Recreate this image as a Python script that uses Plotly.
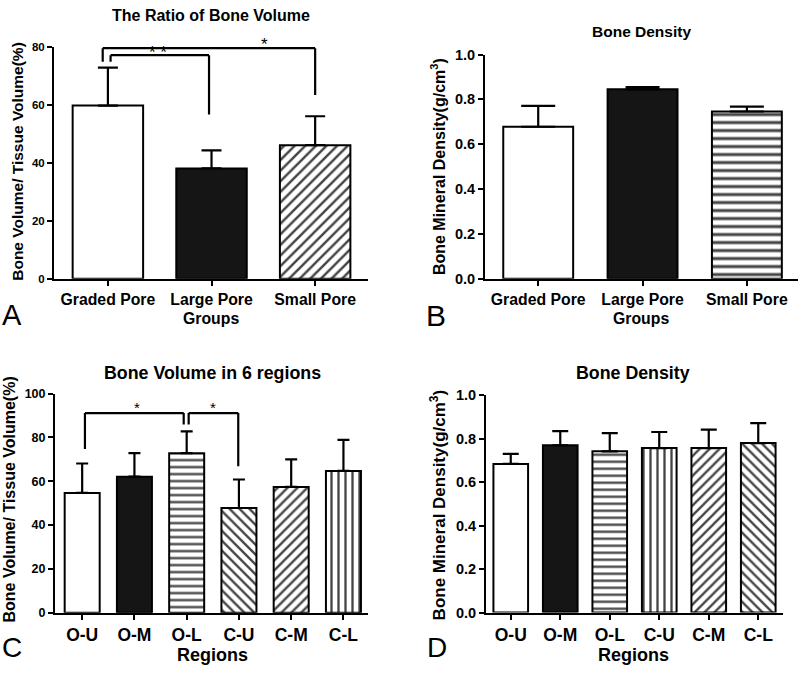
import plotly.graph_objects as go

# ---------------- data ----------------
groups = ["Graded Pore", "Large Pore", "Small Pore"]
bv_groups_mean = [59.8, 38.1, 46.1]
bv_groups_sd = [13.1, 6.2, 10.0]

bmd_groups_mean = [0.678, 0.845, 0.746]
bmd_groups_sd = [0.093, 0.010, 0.022]

regions = ["O-U", "O-M", "O-L", "C-U", "C-M", "C-L"]
bv_regions_mean = [54.7, 62.1, 72.8, 47.8, 57.4, 64.7]
bv_regions_sd = [13.4, 10.7, 10.0, 13.0, 12.6, 14.2]

bmd_regions_mean = [0.684, 0.770, 0.742, 0.757, 0.757, 0.780]
bmd_regions_sd = [0.046, 0.065, 0.084, 0.074, 0.085, 0.092]

# significance brackets: (x_left, x_right, y_top, y_left_end, y_right_end, label, label_x, label_y)
sig_a = [(-0.05, 2.0, 79.6, 74.9, 63.4, "*", 1.507, 81.0),
         (0.026, 0.976, 77.2, 74.9, 56.7, "* *", 0.48, 78.0)]
sig_c = [(0.053, 1.943, 91.1, 74.7, 85.9, "*", 1.05, 93.6),
         (2.038, 2.987, 91.1, 85.9, 66.9, "*", 2.5, 93.6)]

FONT = "Liberation Sans, Arial, sans-serif"
W, H = 800, 673


def px(x):
    return x / W


def py(y):
    return 1 - y / H


# axis geometry (paper domains and ranges)
AX = {
    "x": dict(dom=[px(54), px(368)], rng=[-0.52, 2.51]),
    "y": dict(dom=[py(277.3), py(40)], rng=[0, 80]),
    "x2": dict(dom=[px(485), px(798)], rng=[-0.51, 2.49]),
    "y2": dict(dom=[py(277.3), py(47.7)], rng=[0, 1]),
    "x3": dict(dom=[px(55), px(368)], rng=[-0.52, 5.47]),
    "y3": dict(dom=[py(619.5), py(395)], rng=[0, 100]),
    "x4": dict(dom=[px(486), px(783)], rng=[-0.5, 5.5]),
    "y4": dict(dom=[py(619.3), py(396.7)], rng=[0, 1]),
}


def to_paper(ax, v):
    d, r = AX[ax]["dom"], AX[ax]["rng"]
    return d[0] + (v - r[0]) / (r[1] - r[0]) * (d[1] - d[0])


fig = go.Figure()


def add_bars(xa, ya, cats, means, sds, colors, shapes, psize, solid, width, capw):
    fig.add_trace(go.Bar(
        x=cats, y=means, xaxis=xa, yaxis=ya, width=width,
        marker=dict(color=colors, line=dict(color="black", width=2),
                    pattern=dict(shape=shapes, fgcolor="black", bgcolor="white",
                                 size=psize, solidity=solid, fgopacity=1)),
        error_y=dict(type="data", symmetric=False, array=sds,
                     arrayminus=[0] * len(sds), color="black",
                     thickness=2.2, width=capw),
        showlegend=False, hoverinfo="skip"))


add_bars("x", "y", groups, bv_groups_mean, bv_groups_sd,
         ["white", "#151515", "white"], ["", "", "/"], 7.5, 0.33, 0.68, 10)
add_bars("x2", "y2", groups, bmd_groups_mean, bmd_groups_sd,
         ["white", "#151515", "white"], ["", "", "-"], 8, 0.38, 0.67, 17)
add_bars("x3", "y3", regions, bv_regions_mean, bv_regions_sd,
         ["white", "#151515", "white", "white", "white", "white"],
         ["", "", "-", "\\", "/", "|"], 7, 0.33, 0.67, 6)
add_bars("x4", "y4", regions, bmd_regions_mean, bmd_regions_sd,
         ["white", "#151515", "white", "white", "white", "white"],
         ["", "", "-", "|", "/", "\\"], 7, 0.33, 0.70, 8)

shapes = []
annotations = []


def add_brackets(sigs, xr, yr, star_size):
    for (x0, x1, yt, yl, yrr, lab, lx, ly) in sigs:
        for (a, b, c, d) in [(x0, yl, x0, yt), (x0, yt, x1, yt), (x1, yt, x1, yrr)]:
            shapes.append(dict(type="line", xref=xr, yref=yr, x0=a, y0=b, x1=c, y1=d,
                               line=dict(color="black", width=2.2)))
        annotations.append(dict(text=lab, x=to_paper(xr, lx), y=to_paper(yr, ly),
                                xref="paper", yref="paper", showarrow=False,
                                xanchor="center", yanchor="middle",
                                font=dict(family=FONT, size=star_size, color="black")))


add_brackets(sig_a, "x", "y", 17)
add_brackets(sig_c, "x3", "y3", 15)


def txt(t, x, y, size, bold=True, angle=0):
    annotations.append(dict(text=t, x=px(x), y=py(y), xref="paper", yref="paper",
                            showarrow=False, textangle=angle, xanchor="center", yanchor="middle",
                            font=dict(family=FONT, size=size, color="black",
                                      weight="bold" if bold else "normal")))


# titles
txt("The Ratio of Bone Volume", 211, 8, 16)
txt("Bone Density", 641, 24.5, 15.5)
txt("Bone Volume in 6 regions", 212, 374, 17.8)
txt("Bone Density", 633, 374, 17.8)
# x titles
txt("Groups", 211, 318, 15.8)
txt("Groups", 641, 318, 15.8)
txt("Regions", 212, 663, 18)
txt("Regions", 633, 663, 18)
# y titles
txt("Bone Volume/ Tissue Volume(%)", 18, 157.5, 15.5, angle=-90)
txt("Bone Mineral Density(g/cm<sup>3</sup>)", 438, 163, 16, angle=-90)
txt("Bone Volume/ Tissue Volume(%)", 10, 503.5, 16, angle=-90)
txt("Bone Mineral Density(g/cm<sup>3</sup>)", 438, 509.5, 17, angle=-90)
# panel letters
txt("A", 12, 314.5, 29, bold=False)
txt("B", 435.5, 314.5, 30, bold=False)
txt("C", 12, 655, 28, bold=False)
txt("D", 436.7, 655, 28, bold=False)


def xaxis(name, fs, anchor):
    return dict(domain=AX[name]["dom"], range=AX[name]["rng"], type="category", anchor=anchor,
                showline=True, linecolor="black",
                linewidth=2, ticks="outside", ticklen=5, tickwidth=2, tickcolor="black",
                showgrid=False, zeroline=False, fixedrange=True,
                tickfont=dict(family=FONT, size=fs, color="black", weight="bold"))


def yaxis(name, dt, fmt, fs, anchor):
    return dict(domain=AX[name]["dom"], range=AX[name]["rng"], dtick=dt, tick0=0,
                tickformat=fmt, anchor=anchor,
                showline=True, linecolor="black", linewidth=2, ticks="outside", ticklen=5,
                tickwidth=2, tickcolor="black", showgrid=False, zeroline=False,
                fixedrange=True,
                tickfont=dict(family=FONT, size=fs, color="black", weight="bold"))


fig.update_layout(
    width=W, height=H, autosize=False,
    margin=dict(l=0, r=0, t=0, b=0),
    paper_bgcolor="white", plot_bgcolor="white",
    xaxis=xaxis("x", 15.8, "y"),
    yaxis=yaxis("y", 20, "d", 11.5, "x"),
    xaxis2=xaxis("x2", 15.8, "y2"),
    yaxis2=yaxis("y2", 0.2, ".1f", 14.5, "x2"),
    xaxis3=xaxis("x3", 17.5, "y3"),
    yaxis3=yaxis("y3", 20, "d", 12.5, "x3"),
    xaxis4=xaxis("x4", 17.5, "y4"),
    yaxis4=yaxis("y4", 0.2, ".1f", 14.5, "x4"),
    shapes=shapes,
    annotations=annotations,
)

fig.write_html("out.html", config={"displayModeBar": False},
               post_script="document.body.style.margin='0px';")
